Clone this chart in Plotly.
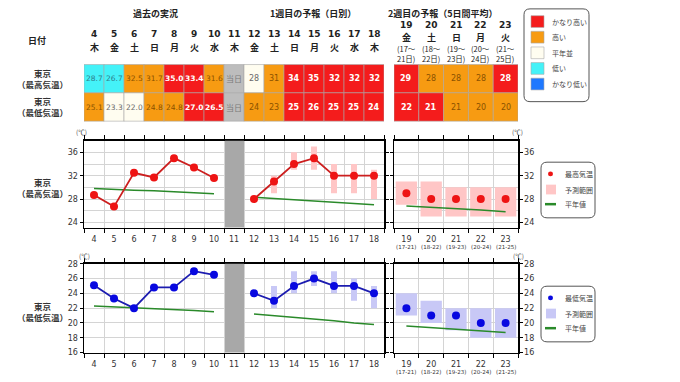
import plotly.graph_objects as go

W, H = 680, 382


def px_x(p):
    return p / W


def px_y(p):
    return 1 - p / H


# ---------------- data ----------------
days_w1 = [4, 5, 6, 7, 8, 9, 10, 11, 12, 13, 14, 15, 16, 17, 18]
weekday_w1 = ["木", "金", "土", "日", "月", "火", "水", "木", "金", "土", "日", "月", "火", "水", "木"]
days_w2 = [19, 20, 21, 22, 23]
weekday_w2 = ["金", "土", "日", "月", "火"]
period_w2 = ["(17～<br>21日)", "(18～<br>22日)", "(19～<br>23日)", "(20～<br>24日)", "(21～<br>25日)"]
period_w2_short = ["(17-21)", "(18-22)", "(19-23)", "(20-24)", "(21-25)"]
today_day = 11

table_max_w1 = ["28.7", "26.7", "32.5", "31.7", "35.0", "33.4", "31.6", "当日",
                "28", "31", "34", "35", "32", "32", "32"]
class_max_w1 = ["l", "l", "h", "h", "vh", "vh", "h", "t", "n", "h", "vh", "vh", "vh", "vh", "vh"]
table_min_w1 = ["25.1", "23.3", "22.0", "24.8", "24.8", "27.0", "26.5", "当日",
                "24", "23", "25", "26", "25", "25", "24"]
class_min_w1 = ["h", "n", "n", "h", "h", "vh", "vh", "t", "h", "h", "vh", "vh", "vh", "vh", "vh"]
table_max_w2 = ["29", "28", "28", "28", "28"]
class_max_w2 = ["vh", "h", "h", "h", "vh"]
table_min_w2 = ["22", "21", "21", "20", "20"]
class_min_w2 = ["vh", "vh", "h", "h", "h"]

class_labels = ["かなり高い", "高い", "平年並", "低い", "かなり低い"]
class_keys = ["vh", "h", "n", "l", "vl"]

obs_days = [4, 5, 6, 7, 8, 9, 10]
obs_max = [28.7, 26.7, 32.5, 31.7, 35.0, 33.4, 31.6]
obs_min = [25.1, 23.3, 22.0, 24.8, 24.8, 27.0, 26.5]
normal_max_obs = [29.8, 29.6, 29.5, 29.4, 29.2, 29.1, 28.9]
normal_min_obs = [22.3, 22.2, 22.1, 21.9, 21.8, 21.7, 21.5]

fc_days = [12, 13, 14, 15, 16, 17, 18]
fc_max = [28, 31, 34, 35, 32, 32, 32]
fc_min = [24, 23, 25, 26, 25, 25, 24]
normal_max_fc = [28.3, 28.1, 27.9, 27.7, 27.5, 27.2, 27.0]
normal_min_fc = [21.2, 21.0, 20.7, 20.5, 20.3, 20.0, 19.8]

rng_days = [13, 14, 15, 16, 17, 18]
fc_max_lo = [29, 33, 33, 29, 29, 28]
fc_max_hi = [32, 36, 37, 34, 34, 33]
fc_min_lo = [22, 24, 25, 24, 23, 22]
fc_min_hi = [25, 27, 27, 27, 26, 25]

w2_max = [29, 28, 28, 28, 28]
w2_max_lo = [27, 25, 25, 25, 25]
w2_max_hi = [31, 31, 30, 30, 30]
w2_min = [22, 21, 21, 20, 20]
w2_min_lo = [21, 20, 19, 18, 18]
w2_min_hi = [24, 23, 22, 22, 22]
normal_max_w2 = [26.8, 26.6, 26.3, 26.1, 25.8]
normal_min_w2 = [19.6, 19.4, 19.2, 18.9, 18.7]

# ---------------- styles ----------------
JP = "Noto Sans CJK JP"
NUM = "DejaVu Sans"
RED_LINE, RED_MK = "#CC1F1F", "#EE1414"
BLUE_LINE, BLUE_MK = "#1C1CB0", "#0808E0"
GREEN = "#2A8A2A"
PINK, LAV = "#FFC6C6", "#C8C8F6"
GRID = "#D4D4D4"
fill = {"vh": "#F41C1C", "h": "#F79B12", "n": "#FFFDF0", "l": "#44F2F8", "vl": "#1E78FF", "t": "#BDBDBD"}
txtc = {"vh": "white", "h": "#8A5200", "n": "#6A6A6A", "l": "#2F7F8C", "vl": "white", "t": "#7A7A7A"}

fig = go.Figure()


def diff(hi, lo):
    return [a - b for a, b in zip(hi, lo)]


# range bars
fig.add_trace(go.Bar(x=rng_days, y=diff(fc_max_hi, fc_max_lo), base=fc_max_lo, width=0.3,
                     marker=dict(color=PINK, line_width=0), xaxis="x", yaxis="y"))
fig.add_trace(go.Bar(x=days_w2, y=diff(w2_max_hi, w2_max_lo), base=w2_max_lo, width=0.86,
                     marker=dict(color=PINK, line_width=0), xaxis="x2", yaxis="y2"))
fig.add_trace(go.Bar(x=rng_days, y=diff(fc_min_hi, fc_min_lo), base=fc_min_lo, width=0.3,
                     marker=dict(color=LAV, line_width=0), xaxis="x3", yaxis="y3"))
fig.add_trace(go.Bar(x=days_w2, y=diff(w2_min_hi, w2_min_lo), base=w2_min_lo, width=0.86,
                     marker=dict(color=LAV, line_width=0), xaxis="x4", yaxis="y4"))

# normals
for xs, ys, xa, ya in [(obs_days, normal_max_obs, "x", "y"), (fc_days, normal_max_fc, "x", "y"),
                       (days_w2, normal_max_w2, "x2", "y2"),
                       (obs_days, normal_min_obs, "x3", "y3"), (fc_days, normal_min_fc, "x3", "y3"),
                       (days_w2, normal_min_w2, "x4", "y4")]:
    fig.add_trace(go.Scatter(x=xs, y=ys, mode="lines", line=dict(color=GREEN, width=1.5),
                             xaxis=xa, yaxis=ya))

# observed / forecast lines
for xs, ys, xa, ya, lc, mc in [(obs_days, obs_max, "x", "y", RED_LINE, RED_MK),
                               (fc_days, fc_max, "x", "y", RED_LINE, RED_MK),
                               (obs_days, obs_min, "x3", "y3", BLUE_LINE, BLUE_MK),
                               (fc_days, fc_min, "x3", "y3", BLUE_LINE, BLUE_MK)]:
    fig.add_trace(go.Scatter(x=xs, y=ys, mode="lines+markers", line=dict(color=lc, width=1.8),
                             marker=dict(color=mc, size=8, line=dict(color=mc, width=0)),
                             xaxis=xa, yaxis=ya))
fig.add_trace(go.Scatter(x=days_w2, y=w2_max, mode="markers", marker=dict(color=RED_MK, size=8),
                         xaxis="x2", yaxis="y2"))
fig.add_trace(go.Scatter(x=days_w2, y=w2_min, mode="markers", marker=dict(color=BLUE_MK, size=8),
                         xaxis="x4", yaxis="y4"))

# ---------------- axes ----------------
tickfont = dict(family=NUM, size=8, color="#333333")


def xax(domain, rng, vals, anchor, t0):
    return dict(domain=domain, range=rng, anchor=anchor, tickmode="array", tickvals=vals,
                ticktext=[str(v) for v in vals],
                showline=True, linecolor="black", linewidth=1.5, mirror="ticks", showgrid=False,
                zeroline=False, ticks="outside", ticklen=3, tickcolor="rgba(0,0,0,0)",
                minor=dict(tick0=t0, dtick=1, ticks="outside", ticklen=4, tickcolor="black",
                           showgrid=True, gridcolor=GRID, gridwidth=1),
                tickfont=tickfont, fixedrange=True)


def yax(domain, rng, vals, anchor, side):
    return dict(domain=domain, range=rng, anchor=anchor, side=side, tickmode="array", tickvals=vals,
                showline=True, linecolor="black", linewidth=1.5, mirror="ticks", showgrid=True,
                gridcolor=GRID, zeroline=False, ticks="outside", ticklen=3, tickcolor="black",
                minor=dict(tick0=0, dtick=2, showgrid=True, gridcolor=GRID, ticks=""),
                tickfont=tickfont, fixedrange=True)


dx1 = [px_x(84), px_x(384)]
dx2 = [px_x(394), px_x(518)]
dy_top = [px_y(229), px_y(140)]
dy_bot = [px_y(357), px_y(266)]

layout_axes = dict(
    xaxis=xax(dx1, [3.5, 18.5], days_w1, "y", 3.5),
    xaxis2=xax(dx2, [18.5, 23.5], days_w2, "y2", 18.5),
    xaxis3=xax(dx1, [3.5, 18.5], days_w1, "y3", 3.5),
    xaxis4=xax(dx2, [18.5, 23.5], days_w2, "y4", 18.5),
    yaxis=yax(dy_top, [23.1, 38], [24, 28, 32, 36], "x", "left"),
    yaxis2=yax(dy_top, [23.1, 38], [24, 28, 32, 36], "x2", "right"),
    yaxis3=yax(dy_bot, [16, 28], [16, 18, 20, 22, 24, 26, 28], "x3", "left"),
    yaxis4=yax(dy_bot, [16, 28], [16, 18, 20, 22, 24, 26, 28], "x4", "right"),
)

shapes = []
annotations = []


def ann(text, x, y, size=9, color="#222222", family=JP, xref="paper", yref="paper", xanchor="center",
        yanchor="middle"):
    annotations.append(dict(text=text, x=x, y=y, xref=xref, yref=yref, showarrow=False,
                            font=dict(family=family, size=size, color=color),
                            xanchor=xanchor, yanchor=yanchor, borderpad=0))


# today band in charts
for xa, ya in [("x", "y"), ("x3", "y3")]:
    shapes.append(dict(type="rect", xref=xa, yref=f"{ya} domain", x0=today_day - 0.45, x1=today_day + 0.5,
                       y0=0, y1=1, fillcolor="#A8A8A8", line_width=0, layer="above"))

# week-2 period sub labels under the x axes
for d, p in zip(days_w2, period_w2_short):
    ann(p, d, px_y(249), size=5.5, color="#333333", family=NUM, xref="x2")
    ann(p, d, px_y(377), size=5.5, color="#333333", family=NUM, xref="x4")


# table cells
def cells(days, texts, classes, xref, y0, y1):
    for d, t, c in zip(days, texts, classes):
        shapes.append(dict(type="rect", xref=xref, yref="paper", x0=d - 0.5, x1=d + 0.5,
                           y0=px_y(y1), y1=px_y(y0), fillcolor=fill[c],
                           line=dict(color="#A8A8A8", width=0.6)))
        bold = c == "vh"
        size = 7.5 if "." in t else 8
        fam = JP if t == "当日" else NUM
        ann(f"<b>{t}</b>" if bold else t, d, px_y((y0 + y1) / 2), size=size, color=txtc[c],
            family=fam, xref=xref)


cells(days_w1, table_max_w1, class_max_w1, "x", 62, 91)
cells(days_w1, table_min_w1, class_min_w1, "x", 91, 120)
cells(days_w2, table_max_w2, class_max_w2, "x2", 62, 91)
cells(days_w2, table_min_w2, class_min_w2, "x2", 91, 120)

# table headers
ann("<b>過去の実況</b>", px_x(155), px_y(10), size=9)
ann("<b>1週目の予報（日別）</b>", px_x(313), px_y(10), size=9)
ann("<b>2週目の予報（5日間平均）</b>", px_x(443), px_y(10), size=9)
ann("<b>日付</b>", px_x(37), px_y(37), size=9)
for d, w in zip(days_w1, weekday_w1):
    ann(f"<b>{d}</b>", d, px_y(31), size=9, family=NUM, xref="x")
    ann(f"<b>{w}</b>", d, px_y(45), size=9, xref="x")
for d, w, p in zip(days_w2, weekday_w2, period_w2):
    ann(f"<b>{d}</b>", d, px_y(21), size=9, family=NUM, xref="x2")
    ann(f"<b>{w}</b>", d, px_y(34), size=9, xref="x2")
    ann(p, d, px_y(51), size=7.5, xref="x2")

# row labels
ann("<b>東京<br>（最高気温）</b>", px_x(42), px_y(76), size=8.5, color="#333333")
ann("<b>東京<br>（最低気温）</b>", px_x(42), px_y(105), size=8.5, color="#333333")
ann("<b>東京<br>（最高気温）</b>", px_x(42), px_y(188), size=8.5, color="#333333")
ann("<b>東京<br>（最低気温）</b>", px_x(42), px_y(315), size=8.5, color="#333333")

# unit labels
for x, y in [(81, 131), (517, 131), (84, 258), (518, 258)]:
    ann("(℃)", px_x(x), px_y(y), size=6.5, color="#444444")


def rounded_path(x0, y0, x1, y1, r):
    segs = [("M", [(x0 + r, y0)]), ("L", [(x1 - r, y0)]), ("Q", [(x1, y0), (x1, y0 + r)]),
            ("L", [(x1, y1 - r)]), ("Q", [(x1, y1), (x1 - r, y1)]), ("L", [(x0 + r, y1)]),
            ("Q", [(x0, y1), (x0, y1 - r)]), ("L", [(x0, y0 + r)]), ("Q", [(x0, y0), (x0 + r, y0)])]
    s = ""
    for cmd, ps in segs:
        s += cmd + " ".join(f"{px_x(a):.5f},{px_y(b):.5f}" for a, b in ps) + " "
    return s + "Z"


def rect_px(x0, y0, x1, y1, color, line="rgba(0,0,0,0)"):
    shapes.append(dict(type="rect", xref="paper", yref="paper", x0=px_x(x0), x1=px_x(x1),
                       y0=px_y(y1), y1=px_y(y0), fillcolor=color, line=dict(color=line, width=0.6)))


# class legend
shapes.append(dict(type="path", xref="paper", yref="paper", path=rounded_path(524, 5, 589, 100, 6),
                   line=dict(color="#555555", width=1), fillcolor="white"))
for i, (k, lab) in enumerate(zip(class_keys, class_labels)):
    yc = 18 + 16 * i
    rect_px(531, yc - 6, 544, yc + 6, fill[k], line="#AAAAAA")
    ann(lab, px_x(551), px_y(yc), size=7, color="#444444", xanchor="left")


# chart legends
def chart_legend(y0, y1, mk, band, name):
    shapes.append(dict(type="path", xref="paper", yref="paper", path=rounded_path(541, y0, 595, y1, 6),
                       line=dict(color="#555555", width=1), fillcolor="white"))
    r1, r2, r3 = y0 + 12, y0 + 28, y0 + 43
    shapes.append(dict(type="circle", xref="paper", yref="paper", x0=px_x(548), x1=px_x(553),
                       y0=px_y(r1 + 2.5), y1=px_y(r1 - 2.5), fillcolor=mk, line_width=0))
    rect_px(546, r2 - 5, 556, r2 + 5, band)
    shapes.append(dict(type="line", xref="paper", yref="paper", x0=px_x(545), x1=px_x(556),
                       y0=px_y(r3), y1=px_y(r3), line=dict(color=GREEN, width=2.5)))
    ann(name, px_x(564), px_y(r1), size=7, color="#444444", xanchor="left")
    ann("予測範囲", px_x(564), px_y(r2), size=7, color="#444444", xanchor="left")
    ann("平年値", px_x(564), px_y(r3), size=7, color="#444444", xanchor="left")


chart_legend(162, 219, RED_MK, PINK, "最高気温")
chart_legend(289, 346, BLUE_MK, LAV, "最低気温")

fig.update_layout(width=W, height=H, margin=dict(l=0, r=0, t=0, b=0, pad=0), showlegend=False,
                  paper_bgcolor="white", plot_bgcolor="white", barmode="overlay", hovermode=False,
                  shapes=shapes, annotations=annotations, **layout_axes)

fig.write_html("out.html", config={"displayModeBar": False, "staticPlot": True},
               post_script="document.body.style.margin='0';document.body.style.overflow='hidden';")
